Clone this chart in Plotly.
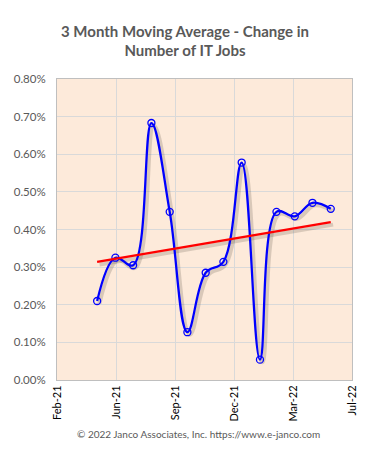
import datetime as dt
import numpy as np
import plotly.graph_objects as go

# ---- data ----
months = ["2021-05-01", "2021-06-01", "2021-07-01", "2021-08-01", "2021-09-01",
          "2021-10-01", "2021-11-01", "2021-12-01", "2022-01-01", "2022-02-01",
          "2022-03-01", "2022-04-01", "2022-05-01", "2022-06-01"]
change_pct = [0.210, 0.325, 0.305, 0.683, 0.447, 0.127, 0.285, 0.314,
              0.578, 0.054, 0.447, 0.435, 0.471, 0.455]
y_ticks = [0.0, 0.1, 0.2, 0.3, 0.4, 0.5, 0.6, 0.7, 0.8]
y_tick_labels = ["0.00%", "0.10%", "0.20%", "0.30%", "0.40%", "0.50%", "0.60%", "0.70%", "0.80%"]

# ---- axis (Excel date axis: min + 100-day major unit) ----
x_start = dt.date(2021, 2, 22)
major_days = 100
x_ticks = [x_start + dt.timedelta(days=major_days * i) for i in range(6)]
x_tick_labels = [d.strftime("%b-%y") for d in x_ticks]
x_end = x_ticks[-1]

dates = [dt.date.fromisoformat(m) for m in months]

# linear trendline
xn = np.array([(d - dates[0]).days for d in dates], dtype=float)
coef = np.polyfit(xn, change_pct, 1)
trend = np.polyval(coef, xn)

# plot geometry for a soft shadow offset
W, H = 370, 457
ml, mr, mt, mb = 57, 18, 79, 77
pw, ph = W - ml - mr, H - mt - mb
days_span = (x_end - x_start).days
dx_days = 2.5 * days_span / pw
dy_val = 2.5 * 0.8 / ph
shadow_dates = [d + dt.timedelta(days=dx_days) for d in dates]

SMOOTH = 1.1

fig = go.Figure()
# shadows
fig.add_trace(go.Scatter(x=shadow_dates, y=[v - dy_val for v in change_pct], mode="lines",
                         line=dict(color="rgba(90,80,70,0.22)", width=4, shape="spline", smoothing=SMOOTH),
                         hoverinfo="skip", showlegend=False))
fig.add_trace(go.Scatter(x=[shadow_dates[0], shadow_dates[-1]], y=[trend[0] - dy_val, trend[-1] - dy_val],
                         mode="lines", line=dict(color="rgba(90,80,70,0.22)", width=4),
                         hoverinfo="skip", showlegend=False))
# main series
fig.add_trace(go.Scatter(x=dates, y=change_pct, mode="lines+markers",
                         line=dict(color="#0000FF", width=2.25, shape="spline", smoothing=SMOOTH),
                         marker=dict(symbol="circle-open", size=7, color="#0000FF", line=dict(width=1.3)),
                         showlegend=False))
# trendline
fig.add_trace(go.Scatter(x=[dates[0], dates[-1]], y=[trend[0], trend[-1]], mode="lines",
                         line=dict(color="#FF0000", width=2.25), showlegend=False))

fig.update_layout(
    width=W, height=H,
    margin=dict(l=ml, r=mr, t=mt, b=mb, autoexpand=False),
    paper_bgcolor="white",
    plot_bgcolor="#FDEADA",
    font=dict(family="Lato, Open Sans, sans-serif", color="#595959"),
    title=dict(text="<b>3 Month Moving Average - Change in<br>Number of IT Jobs</b>",
               x=0.5, xanchor="center", y=0.92, yanchor="top",
               font=dict(size=15, color="#595959", family="Lato, sans-serif")),
    annotations=[dict(text="© 2022 Janco Associates, Inc. https://www.e-janco.com",
                      xref="paper", yref="paper", x=0.48, y=-0.152, xanchor="center", yanchor="top",
                      showarrow=False, font=dict(size=10, color="#595959"))],
)
fig.update_xaxes(type="date", range=[x_start, x_end], tickvals=x_ticks, ticktext=x_tick_labels,
                 tickangle=-90, tickfont=dict(size=11, color="#000000"), automargin=False,
                 showgrid=True, gridcolor="#D9D9D9", gridwidth=1,
                 showline=True, linecolor="#BFBFBF", linewidth=1, mirror=True,
                 ticks="", zeroline=False)
fig.update_yaxes(range=[0, 0.8], tickvals=y_ticks, ticktext=y_tick_labels, automargin=False,
                 tickfont=dict(size=11.5, color="#595959"), ticklabelstandoff=8,
                 showgrid=True, gridcolor="#D9D9D9", gridwidth=1,
                 showline=True, linecolor="#BFBFBF", linewidth=1, mirror=True,
                 ticks="", zeroline=False)

fig.write_html("out.html", config={"displayModeBar": False},
               post_script="document.body.style.margin='0';")
